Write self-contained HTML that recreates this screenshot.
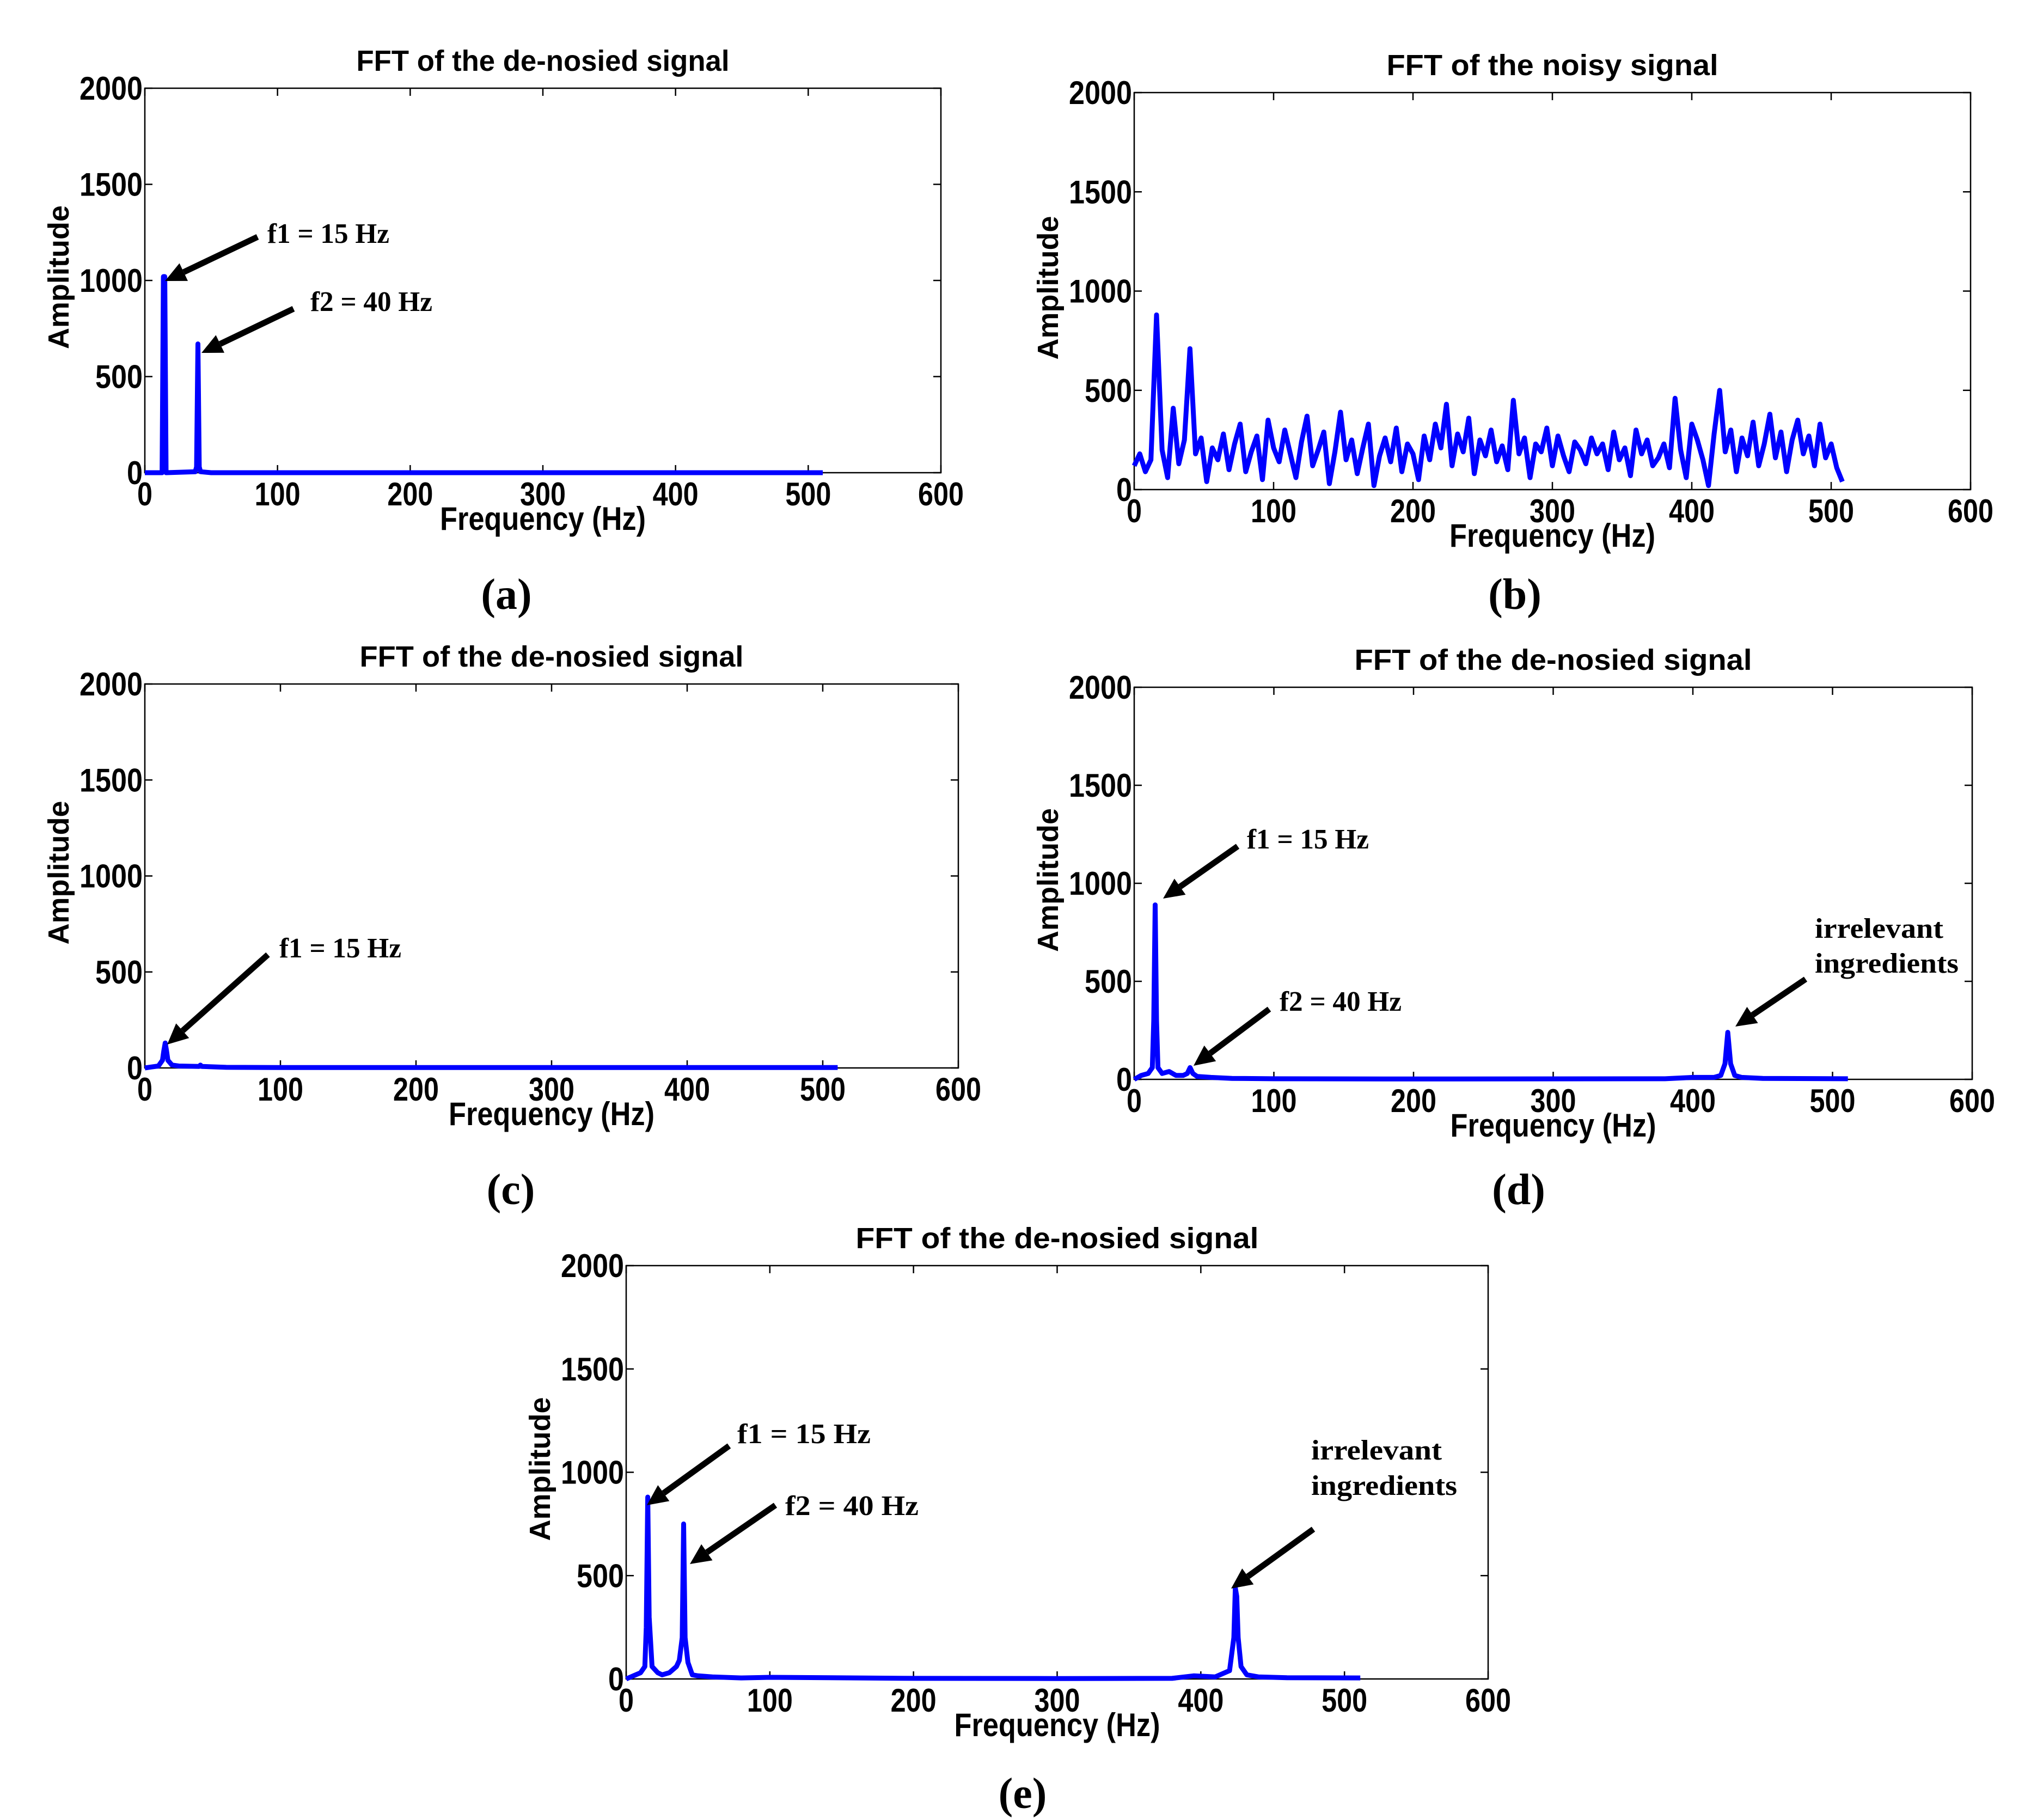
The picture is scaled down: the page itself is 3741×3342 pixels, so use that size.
<!DOCTYPE html>
<html><head><meta charset="utf-8"><style>
html,body{margin:0;padding:0;background:#fff;}
svg{display:block;}
.tick{font-family:"Liberation Sans",sans-serif;font-weight:bold;font-size:60px;}
.ttl{font-family:"Liberation Sans",sans-serif;font-weight:bold;font-size:54px;}
.ann{font-family:"Liberation Serif",serif;font-weight:bold;font-size:52px;}
.sub{font-family:"Liberation Serif",serif;font-size:80px;font-weight:bold;}
</style></head><body>
<svg id="fig" width="3741" height="3342" viewBox="0 0 3741 3342" xmlns="http://www.w3.org/2000/svg">
<rect width="3741" height="3342" fill="#fff"/>
</svg>
<script>
const xTicks = [0,100,200,300,400,500,600];
const yTicks = [0,500,1000,1500,2000];
// panel a
const aFreq = [0,13,14,15,16,38,39,40,41,42,50,511];
const aAmp  = [0,0,1020,1020,0,5,30,670,30,5,0,0];
// panel b (noisy) - values every 4 Hz
const bAmp = [120,180,90,150,880,200,60,410,130,250,710,180,260,40,210,150,
280,100,230,330,90,190,270,50,350,210,140,300,180,60,240,370,
120,200,290,30,190,390,150,250,80,210,330,20,170,260,140,310,
90,230,180,50,270,150,330,210,430,120,280,190,360,80,250,170,
300,140,220,100,450,180,260,60,230,190,310,120,270,170,90,240,
200,130,260,180,230,100,290,150,210,70,300,180,250,120,160,230,
110,460,200,60,330,250,150,20,280,500,190,300,90,260,170,340,
120,230,380,160,290,90,250,350,180,270,120,330,160,230,110,40];
const bStep = 4;
// panel c
const cFreq = [0,5,10,13,14,15,16,17,20,25,40,41,42,60,100,511];
const cAmp  = [0,5,10,40,90,130,90,40,15,10,8,15,8,3,2,2];
// panel d
const dFreq = [0,5,10,13,14,15,16,17,20,25,30,35,38,40,42,45,55,70,100,200,380,400,415,420,423,425,427,430,435,450,511];
const dAmp  = [0,20,30,60,300,890,300,60,30,40,20,20,30,60,30,15,10,5,3,2,3,10,10,20,80,240,80,20,10,5,3];
// panel e
const eFreq = [0,5,10,13,14,15,16,18,22,25,30,35,37,39,40,41,43,46,50,60,80,100,200,300,380,395,410,420,423,424,425,426,428,432,440,460,511];
const eAmp  = [0,15,30,60,250,880,300,60,30,20,30,60,90,200,750,200,80,20,15,10,5,8,3,2,3,15,10,40,200,440,400,200,60,20,10,6,5];

const NS="http://www.w3.org/2000/svg";
const svg=document.getElementById('fig');
function mk(tag,attrs,parent){const e=document.createElementNS(NS,tag);for(const k in attrs)e.setAttribute(k,attrs[k]);(parent||svg).appendChild(e);return e;}

function panel(id,L,R,T,B,title,tw,freq,amp,sub){
  const g=mk('g',{});
  
  
  const sx=v=>L+(v/600)*(R-L), sy=v=>B-(v/2000)*(B-T);
  const box=mk('rect',{x:L,y:T,width:R-L,height:B-T,fill:'none',stroke:'#000','stroke-width':2.5},g);
  
  
  xTicks.forEach(t=>{
    const x=sx(t);
    mk('line',{x1:x,y1:B,x2:x,y2:B-14,stroke:'#000','stroke-width':2.5},g);
    mk('line',{x1:x,y1:T,x2:x,y2:T+14,stroke:'#000','stroke-width':2.5},g);
    const tx=mk('text',{x:x,y:B+60,'text-anchor':'middle',class:'tick',textLength:String(t).length*28,lengthAdjust:'spacingAndGlyphs'},g);
    tx.textContent=t;
    
    
  });
  yTicks.forEach(t=>{
    const y=sy(t);
    mk('line',{x1:L,y1:y,x2:L+14,y2:y,stroke:'#000','stroke-width':2.5},g);
    mk('line',{x1:R,y1:y,x2:R-14,y2:y,stroke:'#000','stroke-width':2.5},g);
    const w=String(t).length*29;
    const tx=mk('text',{x:L-4-w,y:y+21,class:'tick',textLength:w,lengthAdjust:'spacingAndGlyphs'},g);
    tx.textContent=t;
    
    
  });
  const tt=mk('text',{x:(L+R)/2-tw/2,y:T-32,class:'ttl',textLength:tw,lengthAdjust:'spacingAndGlyphs'},g);
  tt.textContent=title;
  
  
  const xl=mk('text',{x:(L+R)/2-189,y:B+105,class:'tick',textLength:378,lengthAdjust:'spacingAndGlyphs'},g);
  xl.textContent='Frequency (Hz)';
  
  
  const cy=(T+B)/2-6;
  const yl=mk('text',{x:0,y:0,class:'ttl',textLength:264,lengthAdjust:'spacingAndGlyphs',transform:`translate(${L-140},${cy+132}) rotate(-90)`},g);
  yl.textContent='Amplitude';
  
  
  const pts=freq.map((f,i)=>sx(f).toFixed(1)+','+sy(amp[i]).toFixed(1)).join(' ');
  const pl=mk('polyline',{points:pts,fill:'none',stroke:'#0000ff','stroke-width':9,'stroke-linejoin':'round'},g);
  
  
  const s=mk('text',{x:sub[1],y:sub[2],'text-anchor':'middle',class:'sub'},g);
  s.textContent=sub[0];
  
  
}
function arrow(x1,y1,x2,y2){
  const a=Math.atan2(y2-y1,x2-x1), hl=38, hw=18;
  const bx=x2-hl*Math.cos(a), by=y2-hl*Math.sin(a);
  const l=mk('line',{x1:x1,y1:y1,x2:bx,y2:by,stroke:'#000','stroke-width':11});
  
  
  const p=mk('polygon',{points:`${x2},${y2} ${bx+hw*Math.sin(a)},${by-hw*Math.cos(a)} ${bx-hw*Math.sin(a)},${by+hw*Math.cos(a)}`,fill:'#000'});
  
  
}
function ann(txt,x,y,w){
  const t=mk('text',{x:x,y:y,class:'ann',textLength:w,lengthAdjust:'spacingAndGlyphs'});
  t.textContent=txt;
  
  
}
const bFreq=bAmp.map((v,i)=>i*bStep);
panel('a',266,1728,162,868,'FFT of the de-nosied signal',685,aFreq,aAmp,['(a)',930,1118]);
panel('b',2083,3619,170,899,'FFT of the noisy signal',609,bFreq,bAmp,['(b)',2782,1118]);
panel('c',266,1760,1256,1961,'FFT of the de-nosied signal',705,cFreq,cAmp,['(c)',938,2211]);
panel('d',2083,3622,1262,1982,'FFT of the de-nosied signal',730,dFreq,dAmp,['(d)',2789,2211]);
panel('e',1150,2733,2324,3083,'FFT of the de-nosied signal',740,eFreq,eAmp,['(e)',1878,3320]);
ann('f1 = 15 Hz',491,446,224); arrow(473,435,303,516);
ann('f2 = 40 Hz',570,571,224); arrow(539,567,370,648);
ann('f1 = 15 Hz',513,1758,224); arrow(492,1753,307,1918);
ann('f1 = 15 Hz',2290,1558,224); arrow(2273,1554,2136,1650);
ann('f2 = 40 Hz',2350,1856,224); arrow(2331,1853,2192,1957);
ann('irrelevant',3333,1722,236); ann('ingredients',3333,1786,264); arrow(3316,1798,3187,1885);
ann('f1 = 15 Hz',1354,2650,245); arrow(1339,2655,1188,2764);
ann('f2 = 40 Hz',1442,2782,245); arrow(1424,2764,1267,2872);
ann('irrelevant',2408,2680,240); ann('ingredients',2408,2745,268); arrow(2412,2808,2261,2917);
</script>
</body></html>
